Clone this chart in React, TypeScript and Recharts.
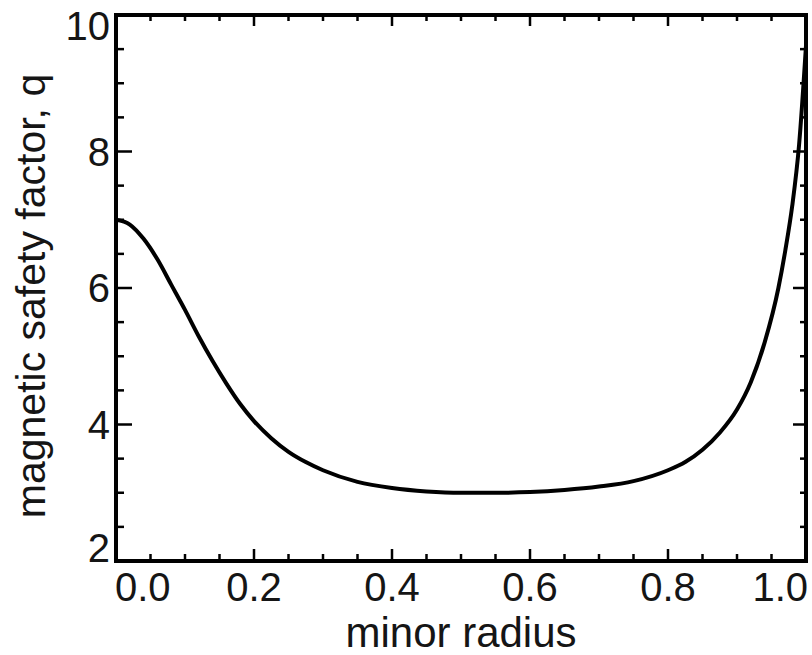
import { Label, Line, LineChart, XAxis, YAxis } from 'recharts';

// q profile
const radius = [
  0, 0.02, 0.04, 0.06, 0.08, 0.1, 0.12, 0.14, 0.16, 0.18, 0.2, 0.225, 0.25, 0.275, 0.3, 0.35, 0.4,
  0.45, 0.5, 0.55, 0.6, 0.65, 0.7, 0.75, 0.8, 0.825, 0.85, 0.875, 0.9, 0.92, 0.94, 0.96, 0.97, 0.98,
  0.99, 1.0,
];
const safetyFactor = [
  7.0, 6.93, 6.72, 6.42, 6.05, 5.68, 5.29, 4.93, 4.6, 4.3, 4.05, 3.8, 3.6, 3.45, 3.33, 3.16, 3.07,
  3.02, 3.0, 3.0, 3.01, 3.04, 3.09, 3.17, 3.33, 3.45, 3.63, 3.88, 4.22, 4.62, 5.2, 6.0, 6.55, 7.2,
  8.1, 9.55,
];

const xMajorTicks = [0, 0.2, 0.4, 0.6, 0.8, 1.0];
const xAllTicks = [
  0, 0.05, 0.1, 0.15, 0.2, 0.25, 0.3, 0.35, 0.4, 0.45, 0.5, 0.55, 0.6, 0.65, 0.7, 0.75, 0.8, 0.85,
  0.9, 0.95, 1.0,
];
const yMajorTicks = [2, 4, 6, 8, 10];
const yAllTicks = [2, 2.5, 3, 3.5, 4, 4.5, 5, 5.5, 6, 6.5, 7, 7.5, 8, 8.5, 9, 9.5, 10];

const FONT = '"Liberation Sans", Arial, Helvetica, sans-serif';
const INK = '#151515';
const frame = { stroke: '#000', strokeWidth: 4, strokeLinecap: 'square' as const };

const isMajor = (list: number[], v: number) => list.some((m) => Math.abs(m - v) < 1e-6);

function BottomTick(props: any) {
  const { x, y, payload } = props;
  const v = payload.value as number;
  const major = isMajor(xMajorTicks, v);
  let anchor: 'start' | 'middle' | 'end' = 'middle';
  let dx = 0;
  if (v === 0) {
    anchor = 'start';
    dx = -1;
  } else if (v === 1) {
    anchor = 'end';
    dx = 2;
  }
  return (
    <g>
      <line x1={x} x2={x} y1={y} y2={y - (major ? 12 : 7)} stroke="#000" strokeWidth={2.5} />
      {major ? (
        <text x={x + dx} y={y + 40} textAnchor={anchor} fontSize={40} fontFamily={FONT} fill={INK}>
          {v.toFixed(1)}
        </text>
      ) : null}
    </g>
  );
}

function TopTick(props: any) {
  const { x, y, payload } = props;
  const major = isMajor(xMajorTicks, payload.value);
  return <line x1={x} x2={x} y1={y} y2={y + (major ? 11 : 6)} stroke="#000" strokeWidth={2.5} />;
}

function LeftTick(props: any) {
  const { x, y, payload } = props;
  const v = payload.value as number;
  const major = isMajor(yMajorTicks, v);
  let dy = 14;
  if (v === 10) dy = 25;
  if (v === 2) dy = 1;
  return (
    <g>
      <line x1={x} x2={x + (major ? 16 : 8)} y1={y} y2={y} stroke="#000" strokeWidth={2.5} />
      {major ? (
        <text x={x - 6} y={y + dy} textAnchor="end" fontSize={40} fontFamily={FONT} fill={INK}>
          {v}
        </text>
      ) : null}
    </g>
  );
}

function RightTick(props: any) {
  const { x, y, payload } = props;
  const major = isMajor(yMajorTicks, payload.value);
  return <line x1={x} x2={x - (major ? 13 : 6)} y1={y} y2={y} stroke="#000" strokeWidth={2.5} />;
}

export default function App() {
  const data = radius.map((r, i) => ({ r, q: safetyFactor[i] }));

  return (
    <div style={{ position: 'absolute', left: 0, top: 0, width: 812, height: 655, background: '#fff' }}>
      <LineChart width={812} height={655} data={data} margin={{ top: 14, right: 5, bottom: 0, left: 0 }}>
        <XAxis
          dataKey="r"
          type="number"
          domain={[0, 1]}
          ticks={xAllTicks}
          interval={0}
          tickSize={0}
          tickMargin={0}
          tickLine={false}
          axisLine={frame}
          tick={<BottomTick />}
          height={94}
        >
          <Label
            content={({ viewBox }: any) => (
              <text
                x={viewBox.x + viewBox.width / 2}
                y={647}
                textAnchor="middle"
                fontSize={42}
                fontFamily={FONT}
                fill={INK}
              >
                minor radius
              </text>
            )}
          />
        </XAxis>
        <XAxis
          xAxisId="top"
          orientation="top"
          dataKey="r"
          type="number"
          domain={[0, 1]}
          allowDataOverflow
          ticks={xAllTicks}
          interval={0}
          tickSize={0}
          tickMargin={0}
          tickLine={false}
          axisLine={frame}
          tick={<TopTick />}
          height={1}
        />
        <YAxis
          type="number"
          domain={[2, 10]}
          ticks={yAllTicks}
          interval={0}
          tickSize={0}
          tickMargin={0}
          tickLine={false}
          axisLine={frame}
          tick={<LeftTick />}
          width={116}
        >
          <Label
            content={({ viewBox }: any) => {
              const cy = viewBox.y + viewBox.height / 2 + 8;
              return (
                <text
                  x={45}
                  y={cy}
                  transform={`rotate(-90, 45, ${cy})`}
                  textAnchor="middle"
                  fontSize={41}
                  fontFamily={FONT}
                  fill={INK}
                >
                  magnetic safety factor, q
                </text>
              );
            }}
          />
        </YAxis>
        <YAxis
          yAxisId="right"
          orientation="right"
          type="number"
          domain={[2, 10]}
          allowDataOverflow
          ticks={yAllTicks}
          interval={0}
          tickSize={0}
          tickMargin={0}
          tickLine={false}
          axisLine={frame}
          tick={<RightTick />}
          width={1}
        />
        <Line
          type="monotone"
          dataKey="q"
          stroke="#000"
          strokeWidth={4}
          dot={false}
          isAnimationActive={false}
        />
      </LineChart>
    </div>
  );
}
